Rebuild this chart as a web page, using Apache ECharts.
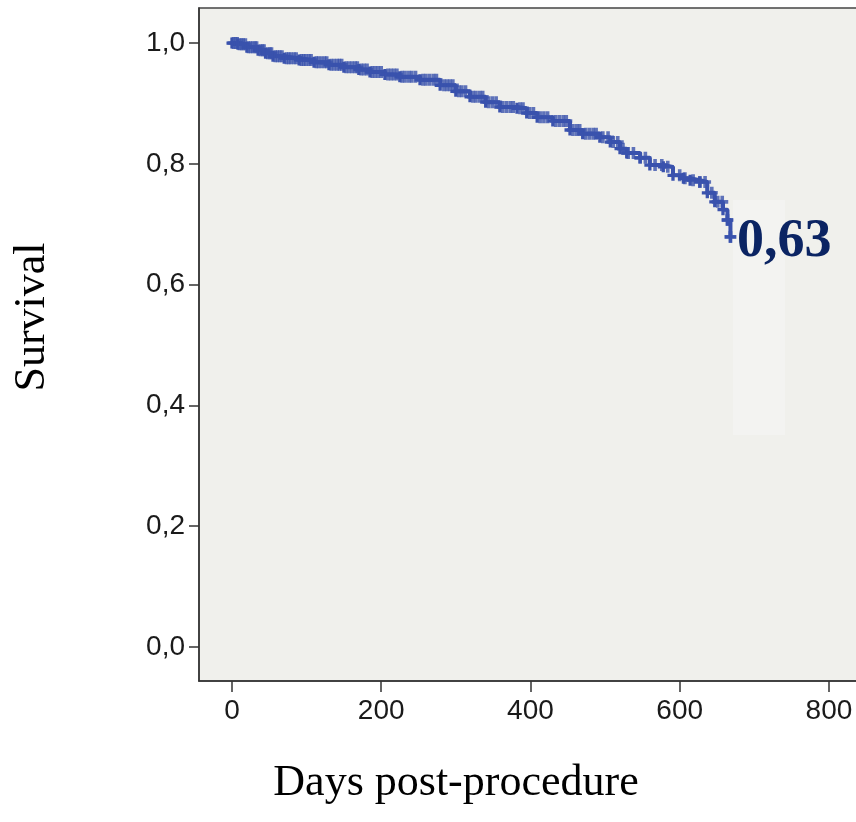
<!DOCTYPE html>
<html>
<head>
<meta charset="utf-8">
<script src="https://cdn.jsdelivr.net/npm/echarts@6/dist/echarts.min.js"></script>
<style>
html,body{margin:0;padding:0;background:#fff;}
#chart{width:856px;height:822px;}
</style>
</head>
<body>
<div id="chart"></div>
<script>
// Kaplan-Meier step points (days, survival)
const kmDays = [0, 8, 20, 35, 45, 55, 70, 90, 110, 130, 150, 170, 185, 205, 225, 252, 279, 300, 319, 340, 359, 382, 395, 409, 430, 453, 470, 493, 507, 520, 529, 547, 560, 578, 591, 605, 614, 627, 637, 647, 658, 664, 668];
const kmSurv = [1.000, 0.998, 0.993, 0.988, 0.983, 0.978, 0.975, 0.972, 0.968, 0.964, 0.960, 0.956, 0.952, 0.948, 0.944, 0.939, 0.930, 0.920, 0.911, 0.902, 0.894, 0.892, 0.884, 0.877, 0.871, 0.856, 0.850, 0.844, 0.836, 0.825, 0.818, 0.810, 0.798, 0.795, 0.781, 0.776, 0.773, 0.770, 0.752, 0.737, 0.724, 0.707, 0.679];
// censored observations (days)
const censorDays = [2, 5, 7, 10, 13, 15, 18, 22, 25, 28, 31, 33, 38, 41, 43, 48, 51, 53, 58, 61, 64, 67, 73, 76, 79, 83, 86, 93, 96, 99, 103, 106, 113, 116, 120, 124, 127, 133, 137, 141, 144, 147, 153, 157, 161, 165, 168, 173, 177, 181, 188, 192, 196, 200, 209, 213, 217, 221, 228, 232, 237, 241, 246, 256, 260, 265, 270, 274, 284, 288, 292, 296, 304, 308, 313, 323, 327, 332, 336, 344, 349, 354, 363, 368, 373, 377, 386, 390, 399, 404, 413, 418, 423, 434, 439, 444, 448, 457, 462, 466, 474, 479, 484, 488, 497, 504, 511, 517, 524, 531, 538, 547, 554, 567, 576, 584, 600, 607, 618, 627, 634, 643, 651, 657, 664, 668];
const yTicks = [0, 0.2, 0.4, 0.6, 0.8, 1.0];
const xTicks = [0, 200, 400, 600, 800];
const xTitle = 'Days post-procedure';
const yTitle = 'Survival';
const finalLabel = '0,63';

function survAt(d) {
  let s = kmSurv[0];
  for (let i = 0; i < kmDays.length; i++) { if (kmDays[i] <= d) s = kmSurv[i]; }
  return s;
}
const kmData = kmDays.map((d, i) => [d, kmSurv[i]]);
const censorData = censorDays.map(d => [d, survAt(d)]);

const plus = 'path://M3.5,0H6.5V3.5H10V6.5H6.5V10H3.5V6.5H0V3.5H3.5Z';
const blue = '#3a52ad';

const chart = echarts.init(document.getElementById('chart'), null, {renderer: 'canvas'});
chart.setOption({
  animation: false,
  backgroundColor: '#ffffff',
  grid: {
    left: 199, top: 8, width: 668, bottom: 141,
    outerBoundsMode: 'none', containLabel: false,
    show: true, backgroundColor: '#f0f0ec', borderColor: '#444', borderWidth: 1.5
  },
  xAxis: {
    type: 'value', min: -44.2, max: 851,
    axisLine: {onZero: false, lineStyle: {color: '#333', width: 1.5}},
    axisTick: {show: true, length: 11, customValues: xTicks, lineStyle: {color: '#333', width: 1.5}},
    axisLabel: {customValues: xTicks, margin: 16, fontFamily: 'Liberation Sans', fontSize: 28, color: '#1a1a1a'},
    splitLine: {show: false}
  },
  yAxis: {
    type: 'value', min: -0.0563, max: 1.058,
    axisLine: {show: true, onZero: false, lineStyle: {color: '#333', width: 1.5}},
    axisTick: {show: true, length: 10, customValues: yTicks, lineStyle: {color: '#333', width: 1.5}},
    axisLabel: {customValues: yTicks, margin: 14, fontFamily: 'Liberation Sans', fontSize: 28, color: '#1a1a1a',
      formatter: v => v.toFixed(1).replace('.', ',')},
    splitLine: {show: false}
  },
  graphic: [
    {type: 'rect', shape: {x: 733, y: 200, width: 52, height: 235}, style: {fill: '#f3f3f1'}, z: 1},
    {type: 'text', x: 32, y: 317, rotation: Math.PI / 2,
      style: {text: yTitle, fontFamily: 'Liberation Serif', fontSize: 44, fill: '#000', align: 'center', verticalAlign: 'middle'}},
    {type: 'text', x: 456, y: 783,
      style: {text: xTitle, fontFamily: 'Liberation Serif', fontSize: 44, fill: '#000', align: 'center', verticalAlign: 'middle'}},
    {type: 'text', x: 737, y: 242, z: 10,
      style: {text: finalLabel, fontFamily: 'Liberation Serif', fontWeight: 'bold', fontSize: 54, fill: '#0b2463', align: 'left', verticalAlign: 'middle'}}
  ],
  series: [
    {
      type: 'line', data: kmData, step: 'end', z: 3,
      lineStyle: {color: blue, width: 4},
      symbol: plus, symbolSize: 11, showSymbol: true, itemStyle: {color: blue}
    },
    {
      type: 'scatter', data: censorData, z: 4,
      symbol: plus, symbolSize: 12, itemStyle: {color: blue}
    }
  ]
});
</script>
</body>
</html>
